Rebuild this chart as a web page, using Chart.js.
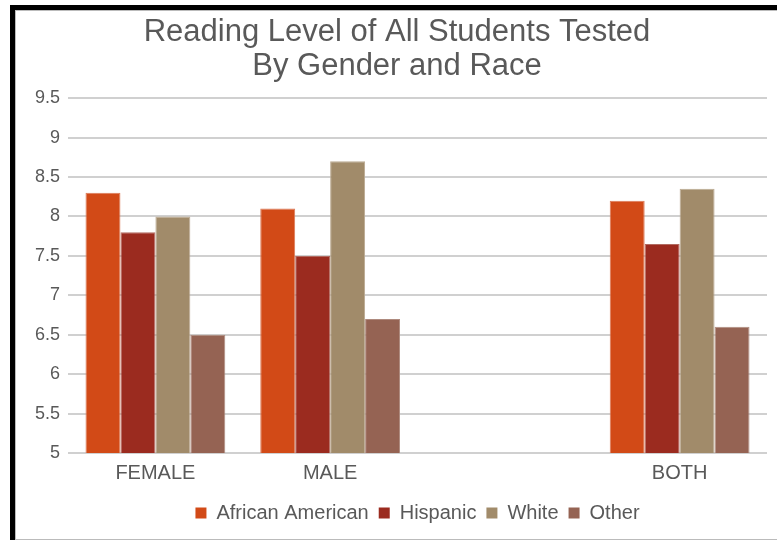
<!DOCTYPE html>
<html>
<head>
<meta charset="utf-8">
<script src="https://cdn.jsdelivr.net/npm/chart.js@4"></script>
<style>
  html, body { margin: 0; padding: 0; background: #fff; width: 777px; height: 540px; overflow: hidden; }
  #wrap { position: absolute; left: 0; top: 0; width: 777px; height: 540px; }
  #frame { position: absolute; left: 10px; top: 5px; width: 767px; height: 535px; box-sizing: border-box;
           border-left: 5px solid #000; border-top: 5px solid #000; pointer-events: none; }
  #inner { position: absolute; left: 15px; top: 10px; right: 0; bottom: 0; box-sizing: border-box;
           border-left: 1px solid #bbb; border-top: 1px solid #bbb; border-bottom: 1px solid #bbb; pointer-events: none; }
</style>
</head>
<body>
<div id="wrap"><canvas id="c" width="777" height="540"></canvas></div>
<div id="frame"></div>
<div id="inner"></div>
<script>
const categories = ['FEMALE', 'MALE', '', 'BOTH'];
const seriesNames = ['African American', 'Hispanic', 'White', 'Other'];
const aaValues = [8.3, 8.1, null, 8.2];
const hispanicValues = [7.8, 7.5, null, 7.65];
const whiteValues = [8.0, 8.7, null, 8.35];
const otherValues = [6.5, 6.7, null, 6.6];
const colors = ['#D24A17', '#9B2B1F', '#A18B6A', '#956353'];
const edgeColors = ['#DC7A58', '#B26A60', '#BBAA92', '#AE8A7E'];
const yMin = 5, yMax = 9.5, yStep = 0.5;
const titleLines = ['Reading Level of All Students Tested', 'By Gender and Race'];

const textColor = '#595959';
const fontFamily = 'Liberation Sans, Arial, sans-serif';
const allValues = [aaValues, hispanicValues, whiteValues, otherValues];

new Chart(document.getElementById('c'), {
  type: 'bar',
  data: {
    labels: categories,
    datasets: seriesNames.map((name, i) => ({
      label: name,
      data: allValues[i],
      backgroundColor: colors[i],
      borderColor: edgeColors[i],
      borderWidth: 1,
      categoryPercentage: 0.8,
      barPercentage: 1.0
    }))
  },
  options: {
    responsive: false,
    animation: false,
    devicePixelRatio: 1,
    layout: { padding: { left: 27, right: 10, top: 8, bottom: 7 } },
    plugins: {
      title: {
        display: true,
        text: titleLines,
        color: textColor,
        font: { family: fontFamily, size: 31, weight: 'normal', lineHeight: 1.1 },
        padding: { top: 7, bottom: 15 }
      },
      legend: {
        position: 'bottom',
        fullSize: false,
        labels: {
          color: textColor,
          font: { family: fontFamily, size: 20 },
          boxWidth: 11,
          boxHeight: 11,
          padding: 10,
          generateLabels: (chart) => chart.data.datasets.map((ds, i) => ({
            text: ds.label,
            fillStyle: colors[i],
            strokeStyle: colors[i],
            lineWidth: 0,
            fontColor: textColor,
            hidden: false,
            datasetIndex: i
          }))
        }
      },
      tooltip: { enabled: false }
    },
    scales: {
      x: {
        grid: { display: false, drawTicks: false },
        border: { display: false },
        ticks: { color: textColor, font: { family: fontFamily, size: 20 }, padding: 8 }
      },
      y: {
        min: yMin,
        max: yMax,
        ticks: {
          stepSize: yStep,
          color: textColor,
          font: { family: fontFamily, size: 18 },
          padding: 8,
          callback: (v) => String(Number(v))
        },
        grid: { color: '#d0d0d0', lineWidth: 2, drawTicks: false },
        border: { display: false }
      }
    }
  }
});
</script>
</body>
</html>
